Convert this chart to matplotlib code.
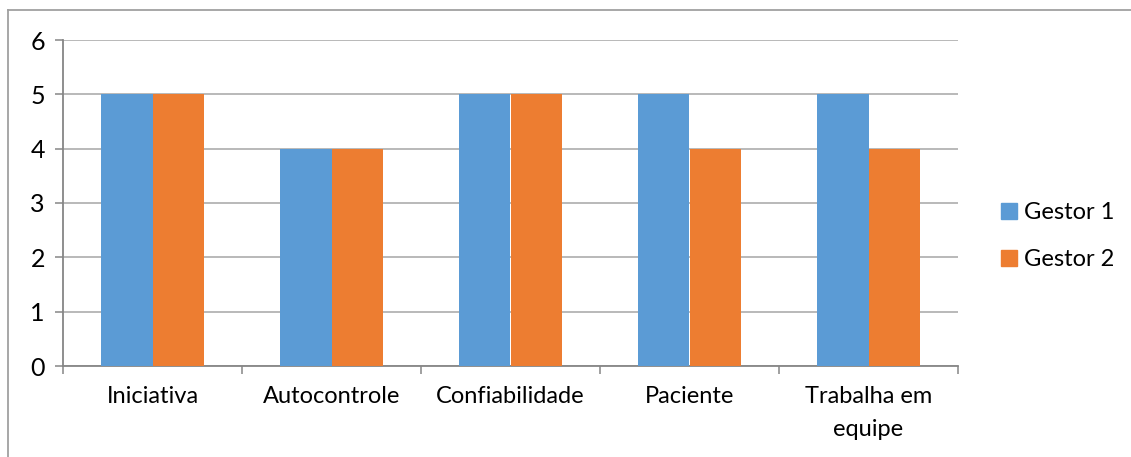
import matplotlib.pyplot as plt
import numpy as np
from matplotlib.lines import Line2D
from matplotlib.patches import Patch

categories = ["Iniciativa", "Autocontrole", "Confiabilidade", "Paciente", "Trabalha em\nequipe"]
gestor1 = [5, 4, 5, 5, 5]
gestor2 = [5, 4, 5, 4, 4]
series_names = ["Gestor 1", "Gestor 2"]

BLUE = "#5B9BD5"
ORANGE = "#ED7D31"
GRID = "#A6A6A6"
AXIS = "#868686"

plt.rcParams["font.family"] = ["Lato", "DejaVu Sans"]

fig = plt.figure(figsize=(11.31, 4.57), dpi=100)
ax = fig.add_axes([63 / 1131, 91 / 457, (958 - 63) / 1131, (366 - 40) / 457])

x = np.arange(len(categories))
w = 0.285
ax.bar(x - w / 2, gestor1, w, color=BLUE, zorder=3)
ax.bar(x + w / 2, gestor2, w, color=ORANGE, zorder=3)

ax.set_xlim(-0.5, len(categories) - 0.5)
ax.set_ylim(0, 6)
ax.set_yticks(range(7))
ax.yaxis.grid(True, color=GRID, linewidth=1.1, zorder=0)
ax.set_axisbelow(True)

for side in ["top", "right"]:
    ax.spines[side].set_visible(False)
ax.spines["left"].set_color(AXIS)
ax.spines["bottom"].set_color(AXIS)
ax.spines["left"].set_linewidth(1.3)
ax.spines["bottom"].set_linewidth(1.3)

ax.tick_params(axis="y", length=6, width=1.1, color=AXIS, labelsize=18, pad=7)
# category boundary ticks on the x axis
ax.set_xticks(np.arange(-0.5, len(categories)), minor=False)
ax.set_xticklabels([])
ax.tick_params(axis="x", length=6, width=1.1, color=AXIS)
for xi, lab in zip(x, categories):
    ax.text(xi, -0.36, lab, ha="center", va="top", fontsize=17,
            linespacing=1.75, transform=ax.transData)

handles = [Patch(color=BLUE), Patch(color=ORANGE)]
fig.legend(handles, series_names, loc="center left",
           bbox_to_anchor=(980 / 1131, 1 - 236 / 457), frameon=False,
           fontsize=17, handlelength=0.65, handleheight=0.65,
           handletextpad=0.3, labelspacing=1.1)

# outer chart border: only top and left edges
fig.add_artist(Line2D([8 / 1131, 1], [1 - 10 / 457, 1 - 10 / 457],
                      transform=fig.transFigure, color="#A0A0A0", linewidth=1.3))
fig.add_artist(Line2D([8 / 1131, 8 / 1131], [0, 1 - 10 / 457],
                      transform=fig.transFigure, color="#A0A0A0", linewidth=1.3))

fig.savefig("out.png", dpi=100)
